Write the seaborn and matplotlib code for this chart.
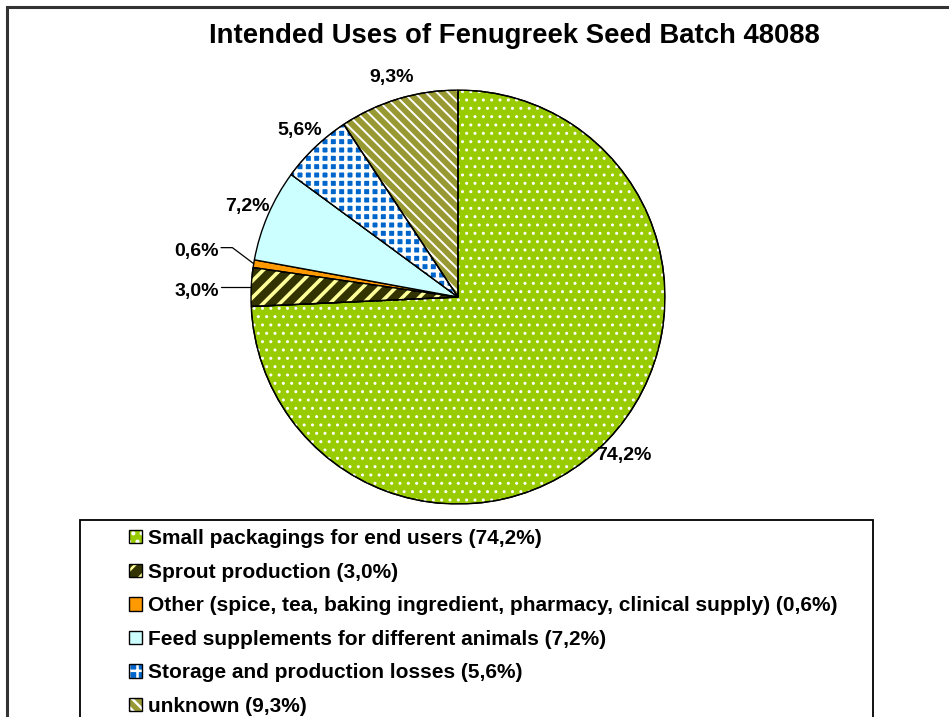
import numpy as np
import matplotlib.pyplot as plt
import seaborn as sns
from matplotlib.patches import Patch, Rectangle, Wedge
from matplotlib.legend_handler import HandlerTuple

# Anteile der Verwendungszwecke (im Uhrzeigersinn ab 12 Uhr)
categories = [
    "Small packagings for end users",
    "Sprout production",
    "Other (spice, tea, baking ingredient, pharmacy, clinical supply)",
    "Feed supplements for different animals",
    "Storage and production losses",
    "unknown",
]
shares = [74.2, 3.0, 0.6, 7.2, 5.6, 9.3]
pct_labels = ["74,2%", "3,0%", "0,6%", "7,2%", "5,6%", "9,3%"]
title = "Intended Uses of Fenugreek Seed Batch 48088"

face_colors = ["#99CC00", "#333300", "#FF9900", "#CCFFFF", "#0066CC", "#999933"]
hatch_colors = ["white", "#FFFF99", None, None, "white", "white"]
hatches = ["..", "//", None, None, "++", "\\\\\\"]
hatch_lws = [1.0, 2.6, 0, 0, 2.4, 1.4]

sns.set_theme(style="white")
plt.rcParams["font.family"] = ["Liberation Sans", "DejaVu Sans"]
plt.rcParams["font.weight"] = "bold"
plt.rcParams["text.color"] = "black"
plt.rcParams["hatch.linewidth"] = 1.8

fig = plt.figure(figsize=(9.49, 7.17), dpi=100)
fig.patch.set_facecolor("white")

# Pie
ax = fig.add_axes([0.2645, 0.297, 0.4362, 0.5774])
wedges, _ = ax.pie(shares, colors=face_colors, startangle=90, counterclock=False,
                   wedgeprops=dict(edgecolor="black", linewidth=1.0))
ax.set_xlim(-1, 1)
ax.set_ylim(-1, 1)
ax.set_aspect("equal")
ax.axis("off")


def hatch_patch(patch_cls, *args, hc, h, hlw, **kw):
    p = patch_cls(*args, facecolor="none", edgecolor=hc, hatch=h, linewidth=0, **kw)
    if hasattr(p, "set_hatch_linewidth"):
        p.set_hatch_linewidth(hlw)
    return p


for w, hc, h, hlw in zip(wedges, hatch_colors, hatches, hatch_lws):
    if h is None:
        continue
    ov = hatch_patch(Wedge, w.center, w.r, w.theta1, w.theta2, hc=hc, h=h, hlw=hlw, zorder=3)
    ax.add_patch(ov)
    ax.add_patch(Wedge(w.center, w.r, w.theta1, w.theta2, facecolor="none",
                       edgecolor="black", linewidth=1.0, zorder=4))

# Prozent-Beschriftungen
prev_y = None
for w, share, lab in zip(wedges, shares, pct_labels):
    mid = np.deg2rad((w.theta1 + w.theta2) / 2)
    ex, ey = np.cos(mid), np.sin(mid)
    if share >= 4:
        ax.text(1.11 * ex, 1.11 * ey, lab, ha="center", va="center",
                fontsize=14, fontweight="bold")
    else:
        ty = ey if prev_y is None else max(ey, prev_y + 0.19)
        prev_y = ty
        ax.text(-1.155, ty - 0.02, lab, ha="right", va="center", fontsize=14,
                fontweight="bold")
        ax.plot([-1.145, -1.09, ex], [ty, ty, ey], color="black", lw=0.9, clip_on=False)

fig.text(514 / 949, 1 - 36 / 717, title, ha="center", va="center",
         fontsize=19.8, fontweight="bold")

# Legende
handles = []
for fc, hc, h, hlw in zip(face_colors, hatch_colors, hatches, hatch_lws):
    parts = [Patch(facecolor=fc, edgecolor="none")]
    if h is not None:
        parts.append(hatch_patch(Patch, hc=hc, h=h, hlw=hlw))
    parts.append(Patch(facecolor="none", edgecolor="black", linewidth=1.0))
    handles.append(tuple(parts))
leg_labels = [f"{c} ({p[:-1]}%)" for c, p in zip(categories, pct_labels)]
fig.legend(handles, leg_labels, handler_map={tuple: HandlerTuple(ndivide=1, pad=0)},
           loc="upper left", bbox_to_anchor=(129 / 949, 1 - 529 / 717),
           frameon=False, borderpad=0, borderaxespad=0,
           prop=dict(weight="bold", size=15), handlelength=0.62, handleheight=0.62,
           handletextpad=0.3, labelspacing=0.7)

# Rahmen
fig.add_artist(Rectangle((7 / 949, -0.1), 1.2, 1 - 7 / 717 + 0.1, transform=fig.transFigure,
                         fill=False, linewidth=2.2, edgecolor="#333333"))
fig.add_artist(Rectangle((80 / 949, -0.1), (873 - 80) / 949, 1 - 520 / 717 + 0.1,
                         transform=fig.transFigure, fill=False, linewidth=1.3,
                         edgecolor="black"))

fig.savefig("out.png", dpi=100, facecolor="white")
